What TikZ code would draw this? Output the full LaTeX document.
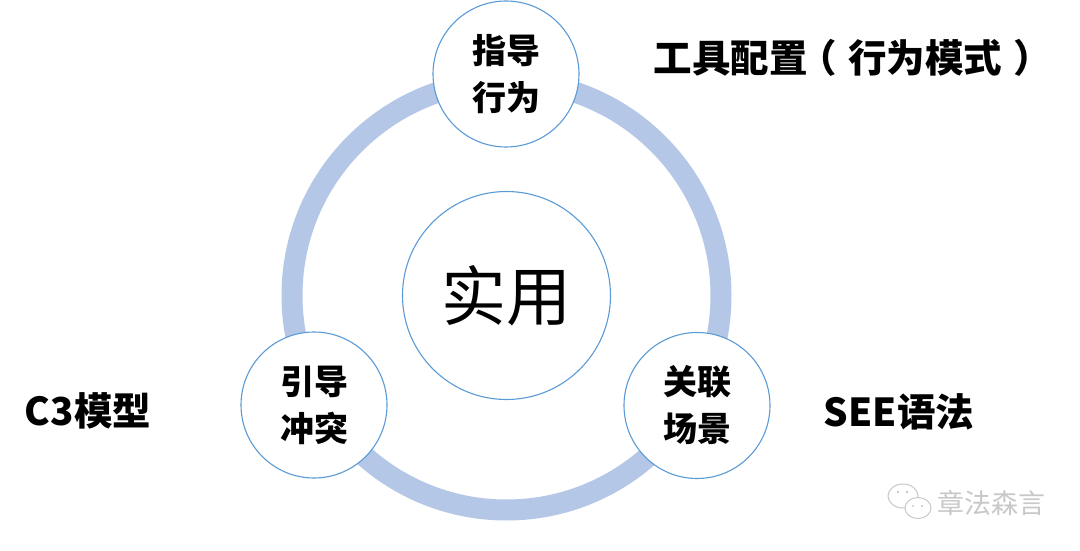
\documentclass[tikz,border=0pt]{standalone}
\usepackage{fontspec}
\newfontfamily\cjk{Noto Sans CJK SC}
\definecolor{ringblue}{HTML}{B4C7E7}
\definecolor{edgeblue}{HTML}{5B9BD5}
\definecolor{wmgray}{HTML}{C8C8C8}
\begin{document}
\begin{tikzpicture}[x=1pt,y=-1pt,
  bubble/.style={circle,draw=edgeblue,line width=1.1pt,fill=white,inner sep=0pt,align=center},
  small/.style={bubble,minimum size=146pt,font=\cjk\bfseries\fontsize{34}{47}\selectfont},
  label/.style={inner sep=0pt,font=\cjk\bfseries\fontsize{38.5}{44}\selectfont}]
\useasboundingbox[fill=white] (0,0) rectangle (1080,551);
\coordinate (o) at (506.5,295.5);
\draw[ringblue,line width=21pt] (o) circle[radius=214.5];
\node[bubble,minimum size=208pt,font=\cjk\fontsize{65}{70}\selectfont] (core) at (o) {\raisebox{4pt}{实用}};
\node[small] (top) at (506,74) {指导\\行为};
\node[small] (left) at (314,405) {引导\\冲突};
\node[small] (right) at (697,405.5) {关联\\场景};
\node[label] (ltop) at (853,58) {工具配置\kern-0.25em（\kern0.3em行为模式\kern0.3em）};
\node[label] (lleft) at (88,411) {C3模型};
\node[label] (lright) at (899,412) {SEE语法};
% watermark
\begin{scope}[draw=wmgray,line width=1pt,fill=white]
  \filldraw (903,496) ellipse[x radius=15,y radius=12];
  \filldraw (918,508) ellipse[x radius=13,y radius=10.5];
  \fill[wmgray] (898,492) circle[radius=1.3] (907,492) circle[radius=1.3];
  \fill[wmgray] (913,506) circle[radius=1.2] (922,506) circle[radius=1.2];
\end{scope}
\node[inner sep=0pt,text=wmgray,font=\cjk\fontsize{27}{30}\selectfont] (wm) at (991,503) {章法森言};
\end{tikzpicture}
\end{document}
